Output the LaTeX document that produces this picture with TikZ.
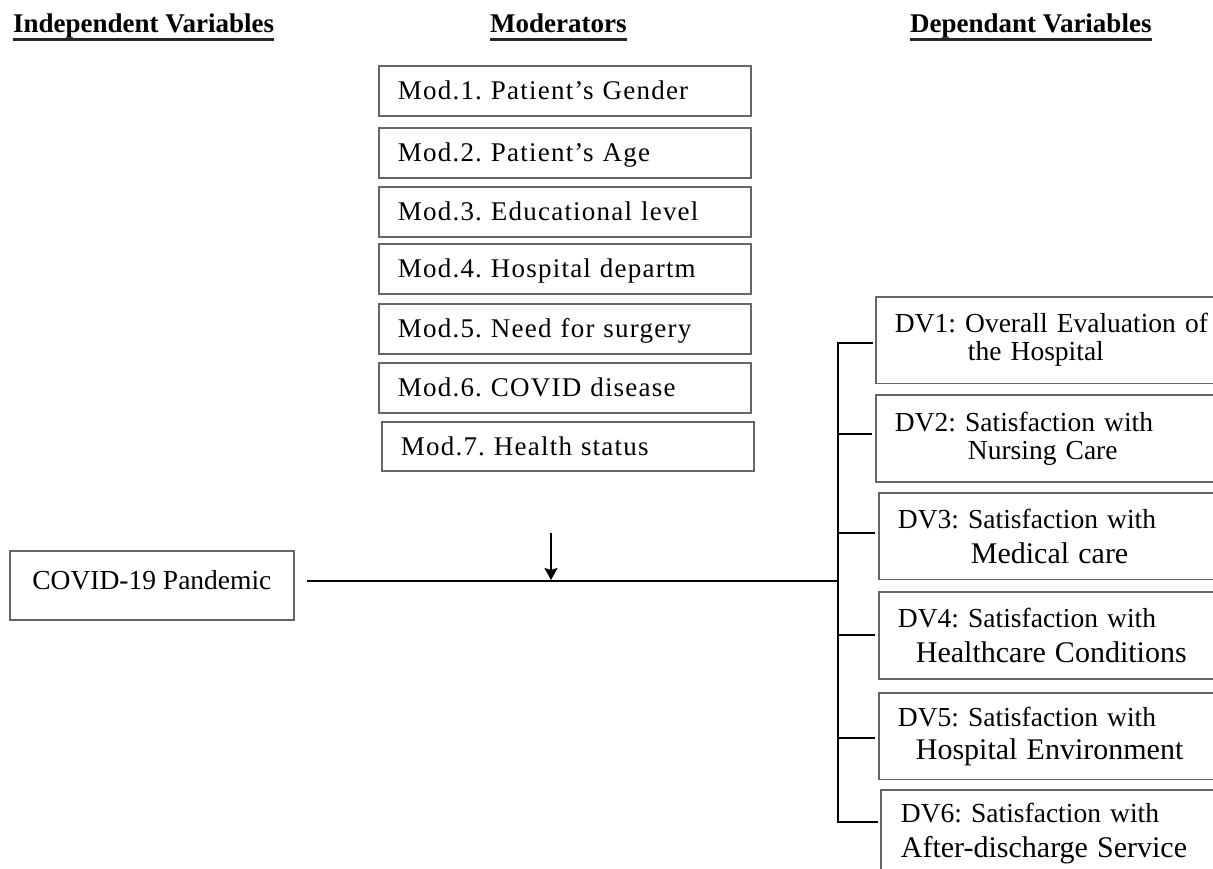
\documentclass[tikz,border=0pt]{standalone}
\usepackage{fontspec}
\setmainfont{Liberation Serif}
\newfontfamily\modfont[LetterSpace=4.5]{Liberation Serif}
\usetikzlibrary{arrows.meta}
\frenchspacing
\begin{document}
\frenchspacing
\begin{tikzpicture}[x=1pt,y=-1pt,
  hdr/.style={font=\bfseries\fontsize{27}{30}\selectfont, anchor=base west, inner sep=0pt},
  ul/.style={line width=2.5pt, black!85},
  box/.style={draw=black!60, line width=1.8pt, rectangle, anchor=north west, inner ysep=0pt, align=left},
  modbox/.style={box, inner xsep=19pt, minimum width=372pt, minimum height=50pt, text width=334pt,
     text height=18pt, text depth=0pt, font=\modfont\fontsize{27}{30}\selectfont\frenchspacing},
  dvbox/.style={box, inner xsep=19pt, minimum width=370pt, minimum height=86.5pt, text width=332pt,
     font=\fontsize{27.5}{28}\selectfont\frenchspacing},
  conn/.style={line width=2.2pt, black}]
\useasboundingbox (0,0) rectangle (1213,869);
\fill[white] (0,0) rectangle (1213,869);

% headers
\node[hdr] (h1) at (13,33) {Independent Variables};
\node[hdr] (h2) at (490,33) {Moderators};
\node[hdr] (h3) at (910,33) {Dependant Variables};
\foreach \h in {h1,h2,h3}
  \draw[ul] ([yshift=-6.5pt]\h.base west) -- ([yshift=-6.5pt]\h.base east);

% moderators
\node[modbox] (m1) at (378,65) {Mod.1. Patient’s Gender};
\node[modbox] (m2) at (378,127) {Mod.2. Patient’s Age};
\node[modbox] (m3) at (378,186) {Mod.3. Educational level};
\node[modbox] (m4) at (378,243) {Mod.4. Hospital departm};
\node[modbox] (m5) at (378,303) {Mod.5. Need for surgery};
\node[modbox] (m6) at (378,362) {Mod.6. COVID disease};
\node[modbox, minimum height=49pt] (m7) at (381,421) {Mod.7. Health status};

% independent variable
\node[box, inner xsep=20pt, minimum width=284pt, minimum height=69pt, text height=19pt, text depth=10pt,
      font=\fontsize{27.5}{30}\selectfont] (iv) at (9,550) {COVID-19 Pandemic};

% dependent variables
\node[dvbox] (dv1) at (875,296) {DV1: Overall Evaluation of\\\hspace*{73pt}the Hospital};
\node[dvbox, minimum height=87pt] (dv2) at (875,394) {DV2: Satisfaction with\\\hspace*{73pt}Nursing Care};
\node[dvbox] (dv3) at (878,492) {DV3: Satisfaction with\\[7pt]\fontsize{30}{35}\selectfont\hspace*{73pt}Medical care};
\node[dvbox, minimum height=87pt] (dv4) at (878,591) {DV4: Satisfaction with\\[7pt]\fontsize{30}{35}\selectfont\hspace*{18pt}Healthcare Conditions};
\node[dvbox] (dv5) at (878,692) {DV5: Satisfaction with\\[5pt]\fontsize{30}{33}\selectfont\hspace*{18pt}Hospital Environment};
\node[dvbox, minimum height=87pt, inner xsep=20pt] (dv6) at (880,789) {DV6: Satisfaction with\\[7pt]\fontsize{30}{35}\selectfont After-discharge Service};

% connectors
\coordinate (j1) at (838,343);
\coordinate (j2) at (838,434);
\coordinate (j3) at (838,533);
\coordinate (j4) at (838,635);
\coordinate (j5) at (838,738);
\coordinate (j6) at (838,822);
\draw[conn, shorten <=2pt, shorten >=2pt] (j1 -| dv1.west) -- (j1) -- (j6) -- (j6 -| dv6.west);
\foreach \n in {2,3,4,5}
  \draw[conn, shorten >=3pt] (j\n) -- (j\n -| dv\n.west);

\coordinate (hs) at (307,581);
\coordinate (he) at (838,581);
\draw[conn] (hs) -- (he);

\coordinate (at) at (551,533);
\draw[conn, -{Stealth[length=12pt,width=13pt,inset=2pt]}] (at) -- ([yshift=1pt]at |- he);
\end{tikzpicture}
\end{document}
